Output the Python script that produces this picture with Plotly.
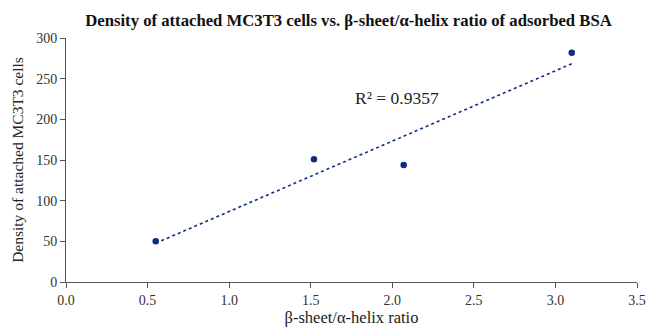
import numpy as np
import plotly.graph_objects as go

ratio = [0.55, 1.52, 2.07, 3.10]
density = [50, 151, 144, 282]
r2_label = "R² = 0.9357"
x_ticks = [0.0, 0.5, 1.0, 1.5, 2.0, 2.5, 3.0, 3.5]
y_ticks = [0, 50, 100, 150, 200, 250, 300]

navy = "#0e2d80"
serif = "Liberation Serif, Times New Roman, serif"

slope, intercept = np.polyfit(ratio, density, 1)
fit_x = [min(ratio), max(ratio)]
fit_y = [slope * v + intercept for v in fit_x]

fig = go.Figure()
fig.add_trace(go.Scatter(x=fit_x, y=fit_y, mode="lines",
                         line=dict(color=navy, width=1.6, dash="dot"),
                         showlegend=False, hoverinfo="skip"))
fig.add_trace(go.Scatter(x=ratio, y=density, mode="markers",
                         marker=dict(color=navy, size=6.5),
                         showlegend=False))

fig.add_annotation(x=1.758, y=226, text=r2_label, showarrow=False,
                   xanchor="left", yanchor="middle",
                   font=dict(family=serif, size=17.5, color="#222"))

axis_common = dict(showgrid=False, zeroline=False, showline=True,
                   linecolor="#555", linewidth=1, ticks="outside",
                   ticklen=5, tickcolor="#555",
                   ticklabeloverflow="allow",
                   tickfont=dict(family=serif, size=14, color="#333"))

fig.update_xaxes(range=[0, 3.5], tickvals=x_ticks,
                 ticktext=[f"{v:.1f}" for v in x_ticks],
                 title=dict(text="β-sheet/α-helix ratio",
                            font=dict(family=serif, size=16.5, color="#222"),
                            standoff=4),
                 **axis_common)
fig.update_yaxes(range=[0, 300], tickvals=y_ticks,
                 title=dict(text="Density of attached MC3T3 cells",
                            font=dict(family=serif, size=15.5, color="#222"),
                            standoff=8),
                 **axis_common)

fig.update_layout(
    width=654, height=331,
    margin=dict(l=66, r=8, t=38, b=45),
    paper_bgcolor="white", plot_bgcolor="white",
    title=dict(text="<b>Density of attached MC3T3 cells vs. β-sheet/α-helix ratio of adsorbed BSA</b>",
               x=348.5 / 654, xanchor="center", y=1 - 20 / 331, yanchor="middle",
               font=dict(family=serif, size=16.7, color="#111")),
)

fig.write_html("out.html")
